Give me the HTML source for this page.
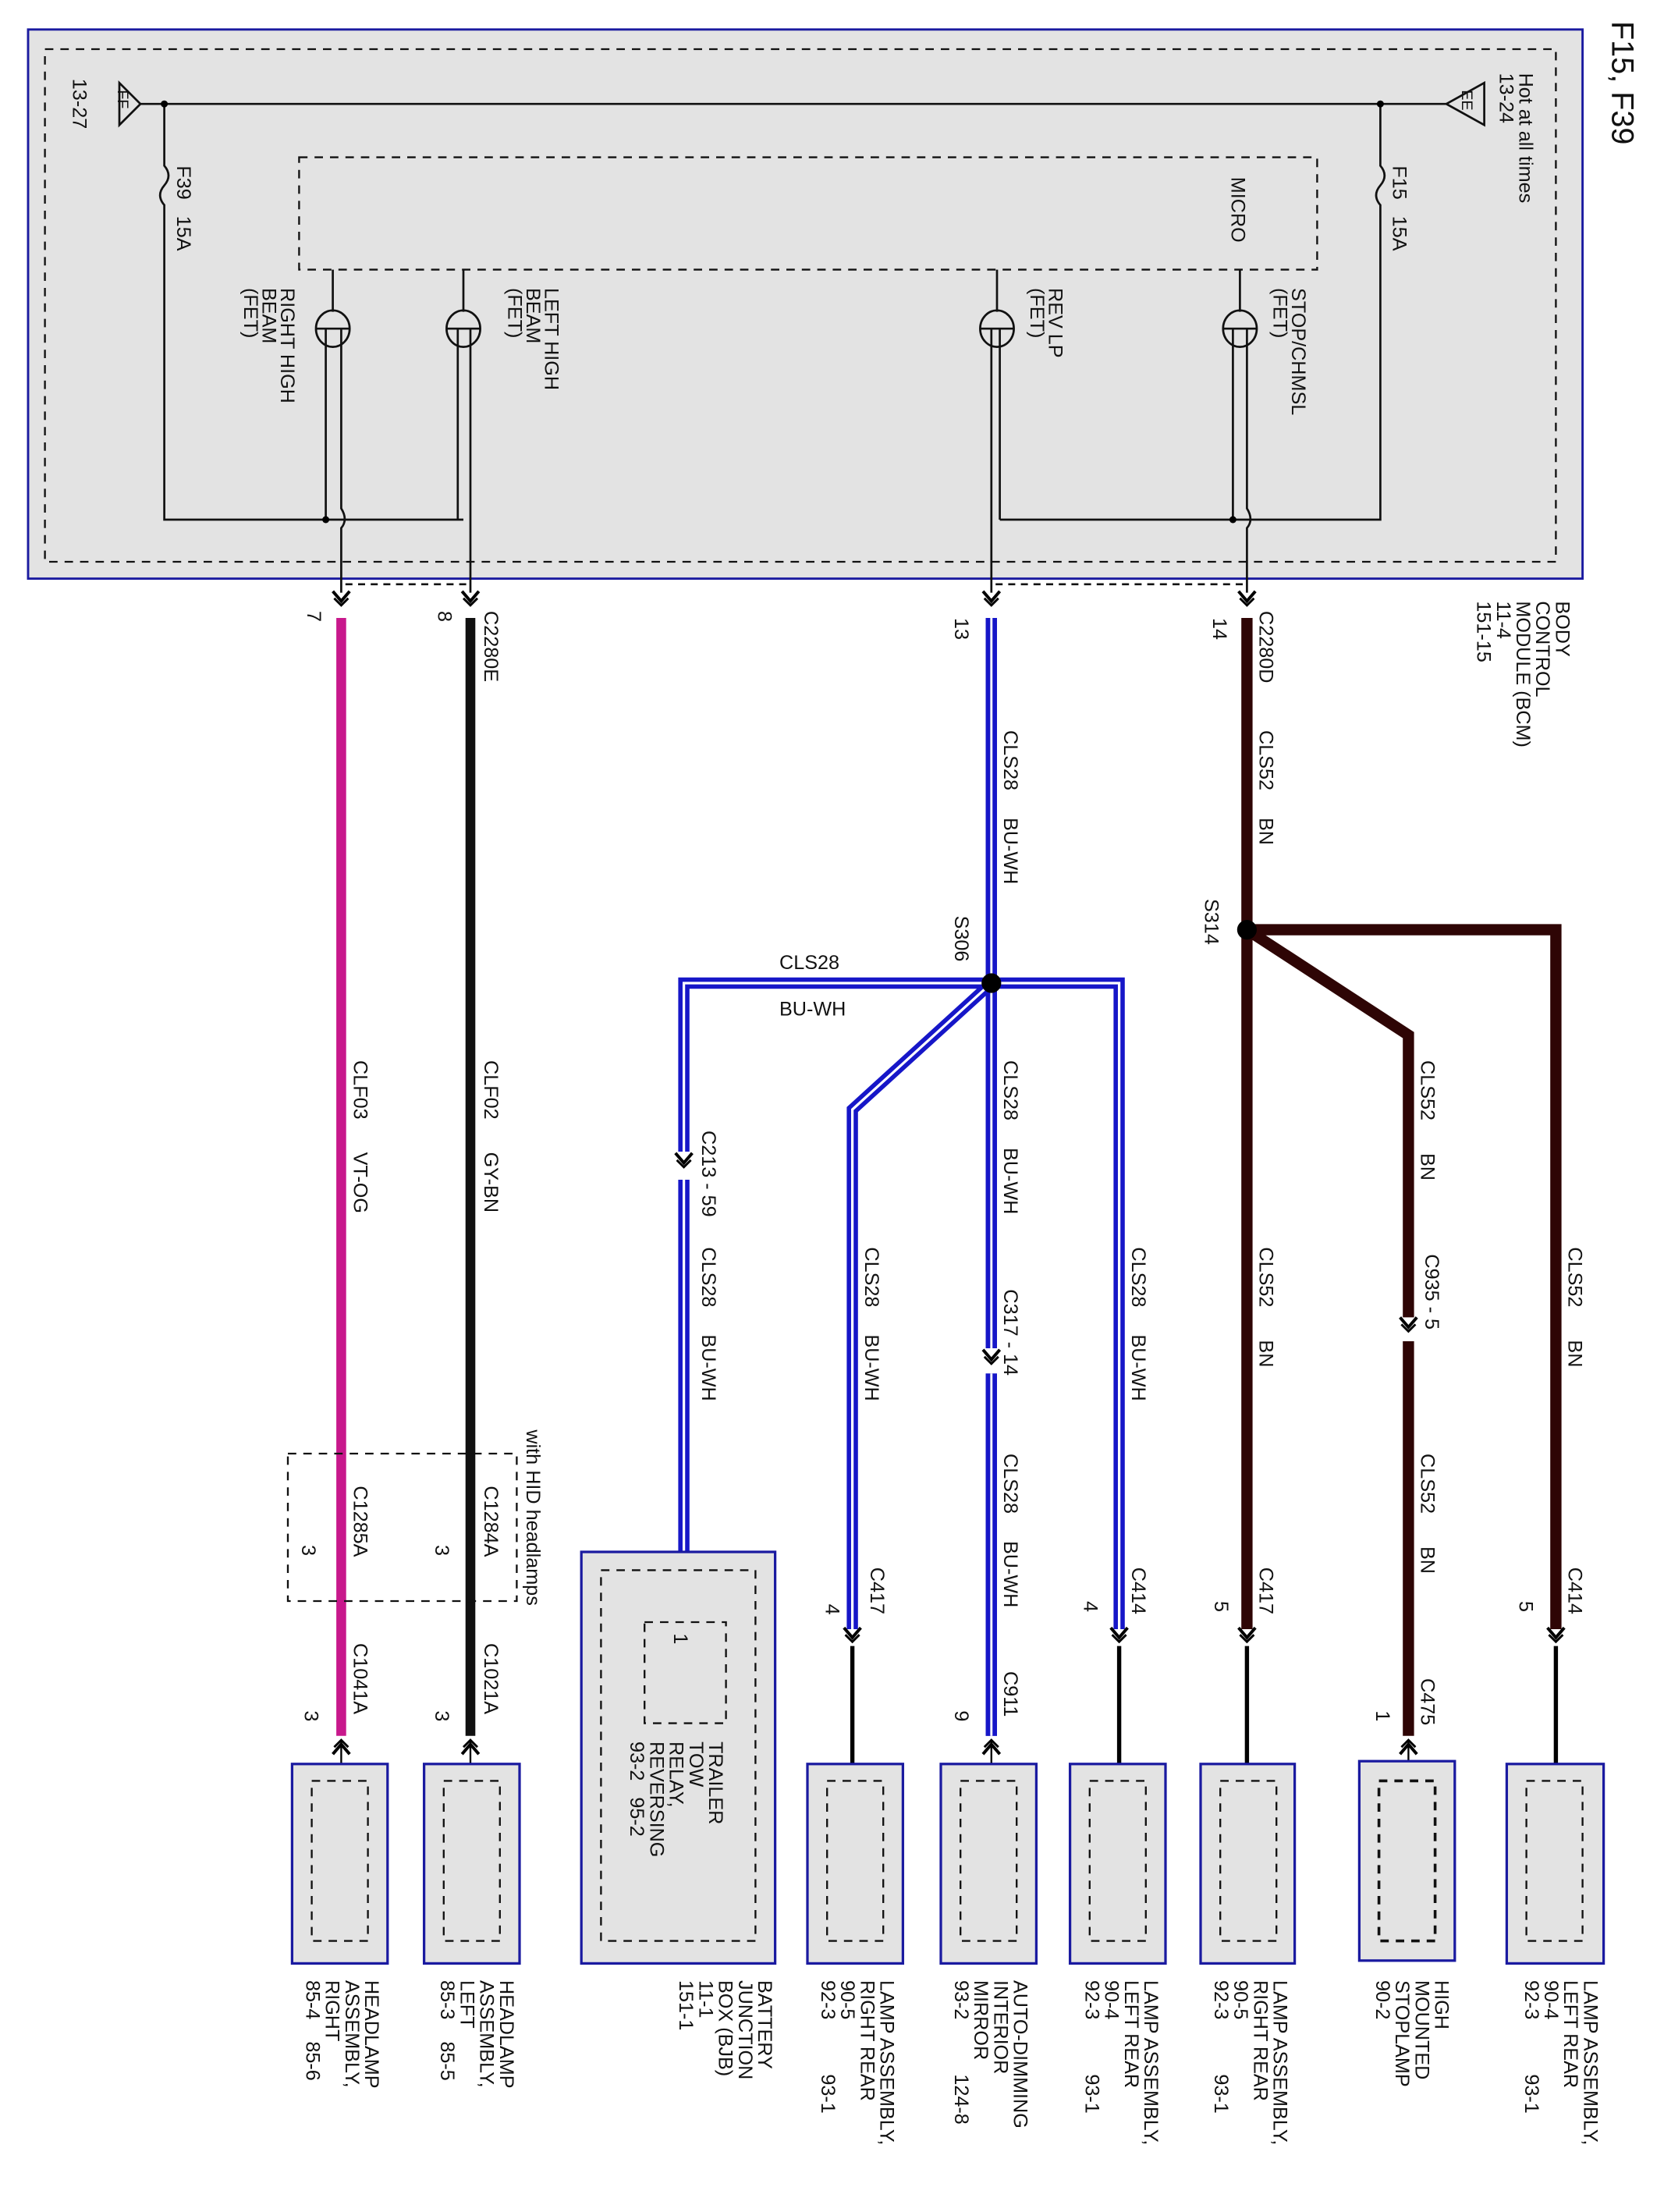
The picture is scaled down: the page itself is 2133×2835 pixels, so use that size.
<!DOCTYPE html>
<html><head><meta charset="utf-8"><style>
html,body{margin:0;padding:0;background:#fff;}
svg{display:block;}
text{font-family:"Liberation Sans",Arial,sans-serif;font-size:14px;fill:#111;white-space:pre;}
</style></head><body>
<svg width="2133" height="2835" viewBox="0 0 1185 1575" preserveAspectRatio="none" xmlns="http://www.w3.org/2000/svg" xml:space="preserve">
<defs>
<g id="ad"><path d="M-6,-7 L0,0 L6,-7" fill="none" stroke="#000" stroke-width="2.2"/><path d="M-5,-2 L0,3 L5,-2" fill="none" stroke="#000" stroke-width="1.6"/></g>
<g id="au"><path d="M-6,7 L0,0 L6,7" fill="none" stroke="#000" stroke-width="2.2"/><path d="M-5,2 L0,-3 L5,2" fill="none" stroke="#000" stroke-width="1.6"/></g>
</defs>
<rect x="0" y="0" width="1185" height="1575" fill="#fff"/>
<rect x="20" y="21" width="1107" height="391" fill="#e3e3e3" stroke="#1a1aa0" stroke-width="1.6"/>
<rect x="32" y="35" width="1076" height="365" fill="none" stroke="#111" stroke-width="1.3" stroke-dasharray="6,5"/>
<rect x="213" y="112" width="725" height="80" fill="none" stroke="#111" stroke-width="1.3" stroke-dasharray="6,5"/>
<g stroke="#111" stroke-width="1.5" fill="none">
<line x1="100" y1="74" x2="1030" y2="74"/>
<polygon points="100,74 85,59 85,89" />
<polygon points="1030,74 1057,59 1057,89"/>
<path d="M117,74 V118 q6,7 0,14 q-6,7 0,14 V370 H330"/>
<path d="M983,74 V118 q6,7 0,14 q-6,7 0,14 V370 H712"/>
<line x1="237" y1="192" x2="237" y2="222"/>
<line x1="330" y1="192" x2="330" y2="222"/>
<line x1="710" y1="192" x2="710" y2="222"/>
<line x1="883" y1="192" x2="883" y2="222"/>
<ellipse cx="237" cy="234" rx="12" ry="13"/><line x1="225" y1="234" x2="249" y2="234"/>
<ellipse cx="330" cy="234" rx="12" ry="13"/><line x1="318" y1="234" x2="342" y2="234"/>
<ellipse cx="710" cy="234" rx="12" ry="13"/><line x1="698" y1="234" x2="722" y2="234"/>
<ellipse cx="883" cy="234" rx="12" ry="13"/><line x1="871" y1="234" x2="895" y2="234"/>
<line x1="232" y1="234" x2="232" y2="370"/>
<path d="M243,234 V362 q5,8 0,14 V422"/>
<line x1="326" y1="234" x2="326" y2="370"/>
<line x1="335" y1="234" x2="335" y2="422"/>
<line x1="712" y1="234" x2="712" y2="370"/>
<line x1="706" y1="234" x2="706" y2="422"/>
<line x1="878" y1="234" x2="878" y2="370"/>
<path d="M888,234 V362 q5,8 0,14 V422"/>
</g>
<circle cx="117" cy="74" r="2.5"/><circle cx="983" cy="74" r="2.5"/>
<circle cx="232" cy="370" r="2.5"/><circle cx="878" cy="370" r="2.5"/>
<g stroke="#111" stroke-width="1.5" stroke-dasharray="5,4"><line x1="246" y1="416" x2="334" y2="416"/><line x1="709" y1="416" x2="886" y2="416"/></g>
<use href="#ad" x="243" y="428"/><use href="#ad" x="335" y="428"/><use href="#ad" x="706" y="428"/><use href="#ad" x="888" y="428"/>
<line x1="243" y1="440" x2="243" y2="1236" stroke="#c8188c" stroke-width="7"/>
<line x1="335" y1="440" x2="335" y2="1236" stroke="#111" stroke-width="7"/>
<g fill="none" stroke-linejoin="miter">
<path d="M888,440 V1160 M888,662 H1108 V1160 M888,662 L1003,737 V938 M1003,955 V1236" stroke="#2e0505" stroke-width="8"/>
<path d="M706,440 V960 M706,978 V1236 M706,700 H487 V820 M487,840 V1105 M706,700 L607,790 V1160 M706,700 H797 V1160" stroke="#1616c8" stroke-width="8"/>
<path d="M706,440 V960 M706,978 V1236 M706,700 H487 V820 M487,840 V1105 M706,700 L607,790 V1160 M706,700 H797 V1160" stroke="#fff" stroke-width="1.8"/>
<path d="M706,440 V960 M706,978 V1236" stroke="#1616c8" stroke-width="8"/>
<path d="M706,440 V700" stroke="#fff" stroke-width="1.6"/>
<path d="M706,700 V960 M706,978 V1236" stroke="#fff" stroke-width="1.6"/>
</g>
<circle cx="706" cy="700" r="7" fill="#000"/><circle cx="888" cy="662" r="7" fill="#000"/>
<use href="#ad" x="487" y="828"/><use href="#ad" x="706" y="968"/><use href="#ad" x="1003" y="945"/>
<use href="#ad" x="607" y="1166"/><use href="#ad" x="797" y="1166"/><use href="#ad" x="888" y="1166"/><use href="#ad" x="1108" y="1166"/>
<g stroke="#000" stroke-width="3"><line x1="607" y1="1172" x2="607" y2="1256"/><line x1="797" y1="1172" x2="797" y2="1256"/><line x1="888" y1="1172" x2="888" y2="1256"/><line x1="1108" y1="1172" x2="1108" y2="1256"/></g>
<use href="#au" x="243" y="1242"/><use href="#au" x="335" y="1242"/><use href="#au" x="706" y="1242"/><use href="#au" x="1003" y="1242"/>
<g stroke="#000" stroke-width="1.3"><line x1="243" y1="1240" x2="243" y2="1268"/><line x1="335" y1="1240" x2="335" y2="1268"/><line x1="706" y1="1240" x2="706" y2="1268"/><line x1="1003" y1="1240" x2="1003" y2="1268"/><line x1="487" y1="1105" x2="487" y2="1155"/></g>
<rect x="205" y="1035" width="163" height="105" fill="none" stroke="#111" stroke-width="1.3" stroke-dasharray="6,5"/>
<g fill="#e3e3e3" stroke="#1a1aa0" stroke-width="1.8">
<rect x="208" y="1256" width="68" height="142"/><rect x="302" y="1256" width="68" height="142"/>
<rect x="414" y="1105" width="138" height="293"/>
<rect x="575" y="1256" width="68" height="142"/><rect x="670" y="1256" width="68" height="142"/>
<rect x="762" y="1256" width="68" height="142"/><rect x="855" y="1256" width="67" height="142"/>
<rect x="968" y="1254" width="68" height="142"/><rect x="1073" y="1256" width="69" height="142"/>
</g>
<g fill="none" stroke="#111" stroke-width="1.3" stroke-dasharray="6,5">
<rect x="222" y="1268" width="40" height="114"/><rect x="316" y="1268" width="40" height="114"/>
<rect x="428" y="1118" width="110" height="264"/><rect x="459" y="1155" width="58" height="72"/>
<rect x="589" y="1268" width="40" height="114"/><rect x="684" y="1268" width="40" height="114"/>
<rect x="776" y="1268" width="40" height="114"/><rect x="869" y="1268" width="40" height="114"/>
<rect x="982" y="1268" width="40" height="114" stroke-width="2"/><rect x="1087" y="1268" width="40" height="114"/>
</g>
<text x="555" y="690">CLS28</text><text x="555" y="723">BU-WH</text>
<g>
<text transform="translate(1148,15) rotate(90)" style="font-size:22px">F15, F39</text>
<text transform="translate(1082,52) rotate(90)">Hot at all times</text>
<text transform="translate(1068,52) rotate(90)">13-24</text>
<text transform="translate(1041,64) rotate(90)" style="font-size:11px">EE</text>
<text transform="translate(84,64) rotate(90)" style="font-size:11px">FF</text>
<text transform="translate(52,56) rotate(90)">13-27</text>
<text transform="translate(126,118) rotate(90)">F39   15A</text>
<text transform="translate(992,118) rotate(90)">F15   15A</text>
<text transform="translate(877,126) rotate(90)">MICRO</text>
<text transform="translate(200,205) rotate(90)">RIGHT HIGH</text>
<text transform="translate(187,205) rotate(90)">BEAM</text>
<text transform="translate(174,205) rotate(90)">(FET)</text>
<text transform="translate(388,205) rotate(90)">LEFT HIGH</text>
<text transform="translate(375,205) rotate(90)">BEAM</text>
<text transform="translate(362,205) rotate(90)">(FET)</text>
<text transform="translate(747,205) rotate(90)">REV LP</text>
<text transform="translate(734,205) rotate(90)">(FET)</text>
<text transform="translate(920,205) rotate(90)">STOP/CHMSL</text>
<text transform="translate(907,205) rotate(90)">(FET)</text>
<text transform="translate(1108,428) rotate(90)">BODY</text>
<text transform="translate(1094,428) rotate(90)">CONTROL</text>
<text transform="translate(1080,428) rotate(90)">MODULE (BCM)</text>
<text transform="translate(1066,428) rotate(90)">11-4</text>
<text transform="translate(1052,428) rotate(90)">151-15</text>
<text transform="translate(897,435) rotate(90)">C2280D</text>
<text transform="translate(864,440) rotate(90)">14</text>
<text transform="translate(345,435) rotate(90)">C2280E</text>
<text transform="translate(312,435) rotate(90)">8</text>
<text transform="translate(219,435) rotate(90)">7</text>
<text transform="translate(680,440) rotate(90)">13</text>
<text transform="translate(897,520) rotate(90)">CLS52     BN</text>
<text transform="translate(715,520) rotate(90)">CLS28     BU-WH</text>
<text transform="translate(858,640) rotate(90)">S314</text>
<text transform="translate(680,652) rotate(90)">S306</text>
<text transform="translate(252,755) rotate(90)">CLF03      VT-OG</text>
<text transform="translate(345,755) rotate(90)">CLF02      GY-BN</text>
<text transform="translate(715,755) rotate(90)">CLS28     BU-WH</text>
<text transform="translate(1012,755) rotate(90)">CLS52      BN</text>
<text transform="translate(500,805) rotate(90)">C213 - 59</text>
<text transform="translate(500,888) rotate(90)">CLS28     BU-WH</text>
<text transform="translate(616,888) rotate(90)">CLS28     BU-WH</text>
<text transform="translate(806,888) rotate(90)">CLS28     BU-WH</text>
<text transform="translate(897,888) rotate(90)">CLS52      BN</text>
<text transform="translate(1117,888) rotate(90)">CLS52      BN</text>
<text transform="translate(1015,893) rotate(90)">C935 - 5</text>
<text transform="translate(715,918) rotate(90)">C317 - 14</text>
<text transform="translate(715,1035) rotate(90)">CLS28     BU-WH</text>
<text transform="translate(1012,1035) rotate(90)">CLS52      BN</text>
<text transform="translate(375,1018) rotate(90)">with HID headlamps</text>
<text transform="translate(345,1058) rotate(90)">C1284A</text>
<text transform="translate(310,1100) rotate(90)">3</text>
<text transform="translate(252,1058) rotate(90)">C1285A</text>
<text transform="translate(215,1100) rotate(90)">3</text>
<text transform="translate(620,1116) rotate(90)">C417</text>
<text transform="translate(588,1142) rotate(90)">4</text>
<text transform="translate(806,1116) rotate(90)">C414</text>
<text transform="translate(772,1140) rotate(90)">4</text>
<text transform="translate(897,1116) rotate(90)">C417</text>
<text transform="translate(865,1140) rotate(90)">5</text>
<text transform="translate(1117,1116) rotate(90)">C414</text>
<text transform="translate(1082,1140) rotate(90)">5</text>
<text transform="translate(715,1190) rotate(90)">C911</text>
<text transform="translate(680,1218) rotate(90)">9</text>
<text transform="translate(1012,1195) rotate(90)">C475</text>
<text transform="translate(980,1218) rotate(90)">1</text>
<text transform="translate(252,1170) rotate(90)">C1041A</text>
<text transform="translate(217,1218) rotate(90)">3</text>
<text transform="translate(345,1170) rotate(90)">C1021A</text>
<text transform="translate(310,1218) rotate(90)">3</text>
<text transform="translate(480,1163) rotate(90)">1</text>
<text transform="translate(505,1240) rotate(90)">TRAILER</text>
<text transform="translate(491,1240) rotate(90)">TOW</text>
<text transform="translate(477,1240) rotate(90)">RELAY,</text>
<text transform="translate(463,1240) rotate(90)">REVERSING</text>
<text transform="translate(449,1240) rotate(90)">93-2   95-2</text>
<text transform="translate(260,1410) rotate(90)">HEADLAMP</text>
<text transform="translate(246,1410) rotate(90)">ASSEMBLY,</text>
<text transform="translate(232,1410) rotate(90)">RIGHT</text>
<text transform="translate(218,1410) rotate(90)">85-4    85-6</text>
<text transform="translate(356,1410) rotate(90)">HEADLAMP</text>
<text transform="translate(342,1410) rotate(90)">ASSEMBLY,</text>
<text transform="translate(328,1410) rotate(90)">LEFT</text>
<text transform="translate(314,1410) rotate(90)">85-3    85-5</text>
<text transform="translate(540,1410) rotate(90)">BATTERY</text>
<text transform="translate(526,1410) rotate(90)">JUNCTION</text>
<text transform="translate(512,1410) rotate(90)">BOX (BJB)</text>
<text transform="translate(498,1410) rotate(90)">11-1</text>
<text transform="translate(484,1410) rotate(90)">151-1</text>
<text transform="translate(627,1410) rotate(90)">LAMP ASSEMBLY,</text>
<text transform="translate(613,1410) rotate(90)">RIGHT REAR</text>
<text transform="translate(599,1410) rotate(90)">90-5</text>
<text transform="translate(585,1410) rotate(90)">92-3          93-1</text>
<text transform="translate(722,1410) rotate(90)">AUTO-DIMMING</text>
<text transform="translate(708,1410) rotate(90)">INTERIOR</text>
<text transform="translate(694,1410) rotate(90)">MIRROR</text>
<text transform="translate(680,1410) rotate(90)">93-2          124-8</text>
<text transform="translate(815,1410) rotate(90)">LAMP ASSEMBLY,</text>
<text transform="translate(801,1410) rotate(90)">LEFT REAR</text>
<text transform="translate(787,1410) rotate(90)">90-4</text>
<text transform="translate(773,1410) rotate(90)">92-3          93-1</text>
<text transform="translate(907,1410) rotate(90)">LAMP ASSEMBLY,</text>
<text transform="translate(893,1410) rotate(90)">RIGHT REAR</text>
<text transform="translate(879,1410) rotate(90)">90-5</text>
<text transform="translate(865,1410) rotate(90)">92-3          93-1</text>
<text transform="translate(1022,1410) rotate(90)">HIGH</text>
<text transform="translate(1008,1410) rotate(90)">MOUNTED</text>
<text transform="translate(994,1410) rotate(90)">STOPLAMP</text>
<text transform="translate(980,1410) rotate(90)">90-2</text>
<text transform="translate(1128,1410) rotate(90)">LAMP ASSEMBLY,</text>
<text transform="translate(1114,1410) rotate(90)">LEFT REAR</text>
<text transform="translate(1100,1410) rotate(90)">90-4</text>
<text transform="translate(1086,1410) rotate(90)">92-3          93-1</text>
</g>
</svg>
</body></html>
